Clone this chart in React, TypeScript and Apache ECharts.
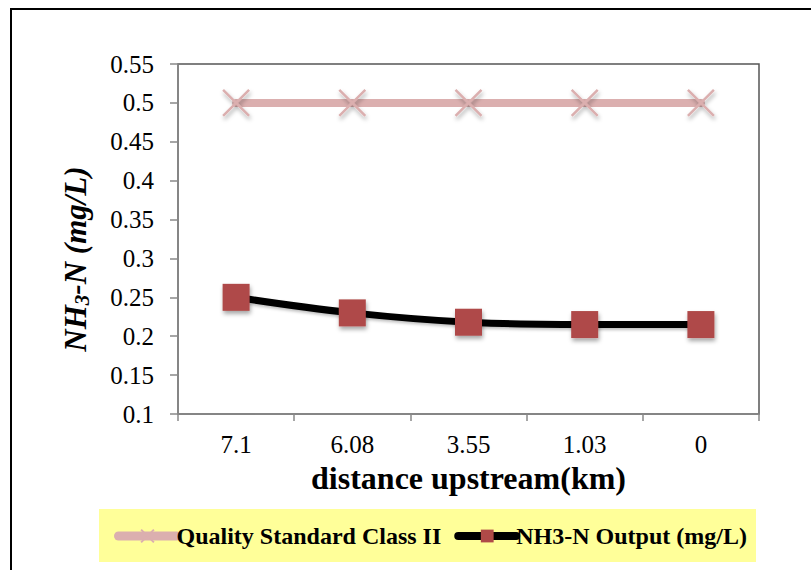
import React, { useEffect, useRef } from "react";
import * as echarts from "echarts";

// Distances upstream (km) along the river, in sampling order
const categories = ["7.1", "6.08", "3.55", "1.03", "0"];
// Class II water quality limit for NH3-N (mg/L)
const standardValues = [0.5, 0.5, 0.5, 0.5, 0.5];
// Modelled NH3-N output (mg/L)
const outputValues = [0.25, 0.23, 0.218, 0.215, 0.215];

const seriesNames = ["Quality Standard Class II", "NH3-N Output (mg/L)"];

const SERIF = "'Liberation Serif', 'Times New Roman', serif";
const PINK = "#DBAFAF";
const RED = "#AF4A48";

export default function App() {
  const ref = useRef<HTMLDivElement>(null);

  useEffect(() => {
    document.body.style.margin = "0";
    const chart = echarts.init(ref.current!, null, { renderer: "svg" });
    const markerShadow = {
      shadowColor: "rgba(0,0,0,0.35)",
      shadowBlur: 4,
      shadowOffsetX: 1,
      shadowOffsetY: 3,
    };
    chart.setOption({
      animation: false,
      backgroundColor: "#fff",
      textStyle: { fontFamily: SERIF },
      grid: {
        left: 178,
        top: 64,
        right: 52,
        bottom: 156,
        show: true,
        borderColor: "#555",
        borderWidth: 1.5,
        backgroundColor: "transparent",
      },
      graphic: [
        {
          type: "rect",
          z: -10,
          shape: { x: 11, y: 9, width: 830, height: 600 },
          style: { fill: "none", stroke: "#000", lineWidth: 2 },
        },
        {
          type: "rect",
          z: -5,
          shape: { x: 99, y: 509, width: 657, height: 53 },
          style: { fill: "#FFFF99" },
        },
        {
          type: "text",
          x: 75,
          y: 259,
          rotation: Math.PI / 2,
          style: {
            text: "{i|NH}{s|3}{i|-N (mg/L)}",
            align: "center",
            verticalAlign: "middle",
            fill: "#000",
            rich: {
              i: {
                fontFamily: SERIF,
                fontSize: 31,
                fontWeight: "bold",
                fontStyle: "italic",
                lineHeight: 34,
              },
              s: {
                fontFamily: SERIF,
                fontSize: 21,
                fontWeight: "bold",
                fontStyle: "italic",
                lineHeight: 20,
                padding: [14, 0, 0, 0],
              },
            },
          },
        },
      ],
      legend: {
        left: 114,
        top: 524,
        padding: 0,
        itemWidth: 58,
        itemHeight: 16,
        itemGap: 13,
        z: 10,
        textStyle: {
          fontFamily: SERIF,
          fontSize: 24,
          fontWeight: "bold",
          color: "#000",
          padding: [0, 0, 0, -5],
        },
        data: [
          { name: seriesNames[0], lineStyle: { width: 9, cap: "round" } },
          { name: seriesNames[1], lineStyle: { width: 8, cap: "round" } },
        ],
      },
      xAxis: {
        type: "category",
        data: categories,
        boundaryGap: true,
        name: "distance upstream(km)",
        nameLocation: "middle",
        nameGap: 43,
        nameTextStyle: {
          fontFamily: SERIF,
          fontSize: 32,
          fontWeight: "bold",
          color: "#000",
        },
        axisLine: { lineStyle: { color: "#888", width: 1.5 } },
        axisTick: { show: true, length: 7, lineStyle: { color: "#888", width: 1.5 } },
        axisLabel: { fontFamily: SERIF, fontSize: 25, color: "#000", margin: 18 },
        splitLine: { show: false },
      },
      yAxis: {
        type: "value",
        min: 0.1,
        max: 0.55,
        interval: 0.05,
        axisLine: { show: true, lineStyle: { color: "#888", width: 1.5 } },
        axisTick: { show: true, length: 8, lineStyle: { color: "#888", width: 1.5 } },
        axisLabel: {
          fontFamily: SERIF,
          fontSize: 25,
          color: "#000",
          margin: 24,
          formatter: (v: number) => String(+v.toFixed(2)),
        },
        splitLine: { show: false },
      },
      series: [
        {
          name: seriesNames[0],
          type: "line",
          data: standardValues,
          symbol: "path://M0,0L10,10M10,0L0,10",
          symbolSize: 26,
          lineStyle: { color: PINK, width: 8, cap: "round" },
          itemStyle: {
            color: PINK,
            borderColor: PINK,
            borderWidth: 2.5,
            ...markerShadow,
          },
        },
        {
          name: seriesNames[1],
          type: "line",
          data: outputValues,
          smooth: 0.4,
          symbol: "rect",
          symbolSize: 27,
          lineStyle: {
            color: "#000",
            width: 7,
            cap: "round",
            shadowColor: "rgba(0,0,0,0.25)",
            shadowBlur: 3,
            shadowOffsetY: 2,
          },
          itemStyle: { color: RED, ...markerShadow },
        },
      ],
    });
    return () => chart.dispose();
  }, []);

  return (
    <div
      ref={ref}
      style={{ position: "absolute", left: 0, top: 0, width: 811, height: 570 }}
    />
  );
}
